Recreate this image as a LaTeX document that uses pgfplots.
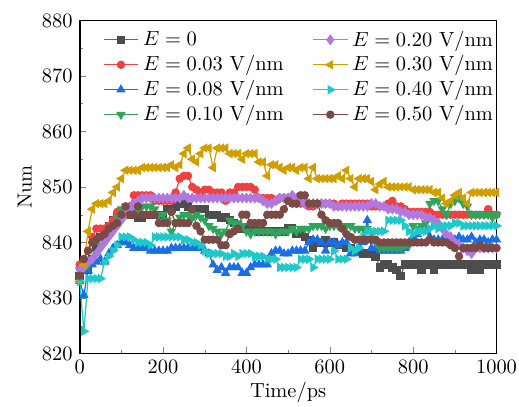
\documentclass[border=0pt]{standalone}
\usepackage{pgfplots}
\pgfplotsset{compat=1.18}
\usepackage{pgfplotstable}

\definecolor{cgray}{HTML}{4D4D4D}
\definecolor{cred}{HTML}{F04040}
\definecolor{cblue}{HTML}{1A6EE6}
\definecolor{cgreen}{HTML}{2EA55A}
\definecolor{cpurple}{HTML}{B278E0}
\definecolor{cgold}{HTML}{D19E00}
\definecolor{ccyan}{HTML}{1EC9C9}
\definecolor{cbrown}{HTML}{7B4A46}

% t, E=0, 0.03, 0.08, 0.10, 0.20, 0.30, 0.40, 0.50 V/nm
\pgfplotstableread{
t a b c d e f g h
0 834 836 833 835 835 833 833 834
10 835 837 830.5 835.5 835.5 836 824 837
20 835 838.5 835 836 836.5 842 833.5 838.5
30 837 841 836 837 837 846 833.5 840
40 839 842.5 836.5 838 838 847 833.5 840.5
50 841 842.5 837 839.5 839 847 833.5 841
60 842 842.5 836.5 840 840 847 836.5 841.5
70 843 843 838 841.5 841 847.5 837.5 842.5
80 844 844 839 843 842 849 838.5 843
90 844.5 845.5 839.5 844.5 843 850 839.5 843.5
100 845 845.5 840 846 844 851.5 841 845
110 845 845.5 840 846.5 845 853 841 846.5
120 845 846.5 839.5 846 846 853 841 845
130 845 848.5 839 845.5 847 853 840.5 845
140 844.5 848.5 839 846 847.5 853 840 846.5
150 844.5 848.5 839 846.5 848 853.5 840 845
160 845 848.5 839 846.5 848 853.5 840 845
170 845 848.5 838.5 846.5 848 853.5 839.5 845
180 845 847.5 838.5 846 848 853.5 841 845
190 845 847.5 838.5 845 848 853.5 841 843.5
200 845 847.5 838.5 845 848 853.5 841 843.5
210 846 847.5 838.5 844 848 853.5 841 843.5
220 846 847.5 839 842 848 854 841 845.5
230 846.5 849 839 843.5 848 853.5 841 843.5
240 847 851.5 839 844.5 848 854 841 843.5
250 847 852 839 845 848.5 856 840.5 843.5
260 846.5 852 839 845 848 857 840.5 843.5
270 846 850 839 844.5 848 855 840 846
280 846 849.5 839 845 848 854.5 840 843
290 846 849 839 844.5 848 856 839.5 842
300 846 849.5 838.5 844 848 857 838.5 840.5
310 845 849.5 838 843 848 857 838 840.5
320 845 849 836 842.5 848 853.5 838 840.5
330 845 849 835 842 848 857 838 840.5
340 844.5 849 835.5 841.5 848 857 838 839.5
350 844.5 847.5 834.5 842 848 857 837.5 839.5
360 844 849 835.5 844 848 856 837.5 841.5
370 843.5 849 835.5 843.5 848 856 838 842
380 843 850 835.5 843.5 848 856 837.5 842.5
390 842.5 850 834.5 843 848 855 838 845
400 842.5 850 834.5 842 848 856 838 845
410 842.5 850 835.5 841.5 848 856 838 843.5
420 842.5 849.5 836 842 848 856 837.5 843.5
430 842 848 836 842 848 854.5 837.5 843.5
440 842 848 836 842 847.5 854.5 837.5 843.5
450 842 848 836 842 847 852 837 845
460 842 848 838 842 847 854 837 845
470 842 847.5 838.5 841.5 847.5 854 837 845
480 842 848 838.5 842 848 853.5 835.5 845
490 842 848 838 842 848 853 835.5 846
500 842.5 848 838 842 848 853.5 835.5 847.5
510 842.5 847.5 838.5 842.5 848.5 853.5 835.5 847
520 841.5 847 838.5 842 848 853 835.5 847
530 841.5 847 838.5 842.5 847.5 853.5 837 848.5
540 841 847 838.5 842.5 847 853.5 837 848.5
550 840.5 846.5 840 842.5 847 851.5 837 847
560 839 846.5 840.5 843 847 853.5 835.5 847
570 840 847 840.5 843 847 851.5 837 847
580 840 847 840 843 847 851.5 837 845
590 840.5 847 838.5 842.5 847 851.5 837 844
600 840 847 840 843 847 851.5 837 843.5
610 840 847 840 843 846.5 851.5 838.5 843.5
620 839.5 846.5 839.5 843 846.5 852 837 843.5
630 839.5 847 840 842.5 846.5 851.5 837 842.5
640 839 847 840 843 846.5 853 837 841.5
650 839 847 838 843 846.5 851.5 839 841
660 838.5 847 838 842.5 846.5 850 838.5 840.5
670 838.5 847 839 842.5 846.5 851.5 839 840.5
680 838 847 840 842.5 846.5 851.5 841 840.5
690 838 847 844 842.5 846.5 851.5 842 840.5
700 838 846.5 839 842 847 851 842 840.5
710 837.5 846.5 839 840 847 849.5 842 840.5
720 835.5 846.5 838.5 839 846.5 850.5 842 840
730 836 846.5 838.5 839 846.5 851 842 840
740 836 847 838.5 839 846 850 844 840
750 835.5 847.5 838.5 839 846 850 844 840
760 835 846.5 838.5 839 846 850 844 840
770 834 846.5 838.5 839 845.5 850 844 840
780 836 846 839 839.5 845.5 850 843 840
790 836 845.5 840 839.5 845 850 842 840
800 836 845.5 841 843 845 849.5 841.5 840
810 836 845.5 841.5 842.5 845 849.5 842 840
820 835 845.5 842.5 843 845 849.5 842 840
830 836 845.5 842 843.5 844.5 849.5 842 840
840 836 845.5 841 847 844.5 849.5 842.5 840.5
850 835 845 840.5 847.5 844 849 843 840
860 836 845 840.5 847.5 843.5 849 842.5 840
870 836 845 840.5 846 842.5 848 843 840
880 836 845 840.5 845 841.5 847 843 840
890 836 845 841 847 841 847.5 843 839.5
900 836 845 840.5 847.5 840 848.5 843.5 839
910 836 845 841 848 839.5 849 843.5 837.5
920 836 845 840.5 847 839 848 843 839
930 836 845 840.5 846.5 838.5 847 843 839
940 835 845 841 845 838 849 843 839
950 836 845 840 845 839 849 843 839
960 835 845 840.5 845 839 849 843 839.5
970 836 845 840.5 845 839 849 843 839
980 836 846 840 845 839 849 843 839
990 836 845 840.5 844.5 839 849 843 839
1000 836 845 840.5 845 839 849 843 839
}\datatable

\pgfplotsset{
  s0/.style={color=gray!80!black, mark=square*, mark options={fill=cgray, draw=cgray}},
  s1/.style={color=cred, mark=*, mark options={fill=cred}},
  s2/.style={color=cblue, mark=triangle*, mark options={fill=cblue, mark size=2.1pt}},
  s3/.style={color=cgreen, mark=triangle*, mark options={fill=cgreen, rotate=180, mark size=2.1pt}},
  s4/.style={color=cpurple, mark=diamond*, mark options={fill=cpurple, mark size=2.2pt}},
  s5/.style={color=cgold, mark=triangle*, mark options={fill=cgold, rotate=90, mark size=2.1pt}},
  s6/.style={color=ccyan, mark=triangle*, mark options={fill=ccyan, rotate=-90, mark size=2.1pt}},
  s7/.style={color=cbrown, mark=*, mark options={fill=cbrown}},
}

\begin{document}
\begin{tikzpicture}
\begin{axis}[
  scale only axis,
  width=204pt, height=163pt,
  xmin=0, xmax=1000, ymin=820, ymax=880,
  xtick={0,200,...,1000}, ytick={820,830,...,880},
  xticklabel style={/pgf/number format/1000 sep={}},
  minor x tick num=1, minor y tick num=1,
  tick align=inside, tick pos=left,
  major tick length=3pt, minor tick length=1.8pt,
  axis line style={line width=0.9pt},
  xlabel={Time/ps}, ylabel={Num},
  xlabel style={yshift=3pt},
  ylabel style={yshift=-2pt},
  legend columns=2,
  legend cell align=left,
  legend style={draw=none, fill=none, at={(0.04,0.995)}, anchor=north west,
    row sep=-0.8pt, /tikz/every even column/.append style={column sep=12pt}},
  every axis plot/.append style={line width=0.6pt, mark size=1.75pt},
]
% legend in column order
\addlegendimage{s0}\addlegendentry{$E=0$}
\addlegendimage{s4}\addlegendentry{$E=0.20$ V/nm}
\addlegendimage{s1}\addlegendentry{$E=0.03$ V/nm}
\addlegendimage{s5}\addlegendentry{$E=0.30$ V/nm}
\addlegendimage{s2}\addlegendentry{$E=0.08$ V/nm}
\addlegendimage{s6}\addlegendentry{$E=0.40$ V/nm}
\addlegendimage{s3}\addlegendentry{$E=0.10$ V/nm}
\addlegendimage{s7}\addlegendentry{$E=0.50$ V/nm}

\addplot[s0, forget plot] table[x=t,y=a] {\datatable};
\addplot[s1, forget plot] table[x=t,y=b] {\datatable};
\addplot[s2, forget plot] table[x=t,y=c] {\datatable};
\addplot[s3, forget plot] table[x=t,y=d] {\datatable};
\addplot[s4, forget plot] table[x=t,y=e] {\datatable};
\addplot[s5, forget plot] table[x=t,y=f] {\datatable};
\addplot[s6, forget plot] table[x=t,y=g] {\datatable};
\addplot[s7, forget plot] table[x=t,y=h] {\datatable};
\coordinate (sw) at (rel axis cs:0,0);
\coordinate (ne) at (rel axis cs:1,1);
\end{axis}
\pgfresetboundingbox
\path[use as bounding box] ([shift={(-39pt,-26pt)}]sw) rectangle ([shift={(11pt,10pt)}]ne);
\end{tikzpicture}
\end{document}
